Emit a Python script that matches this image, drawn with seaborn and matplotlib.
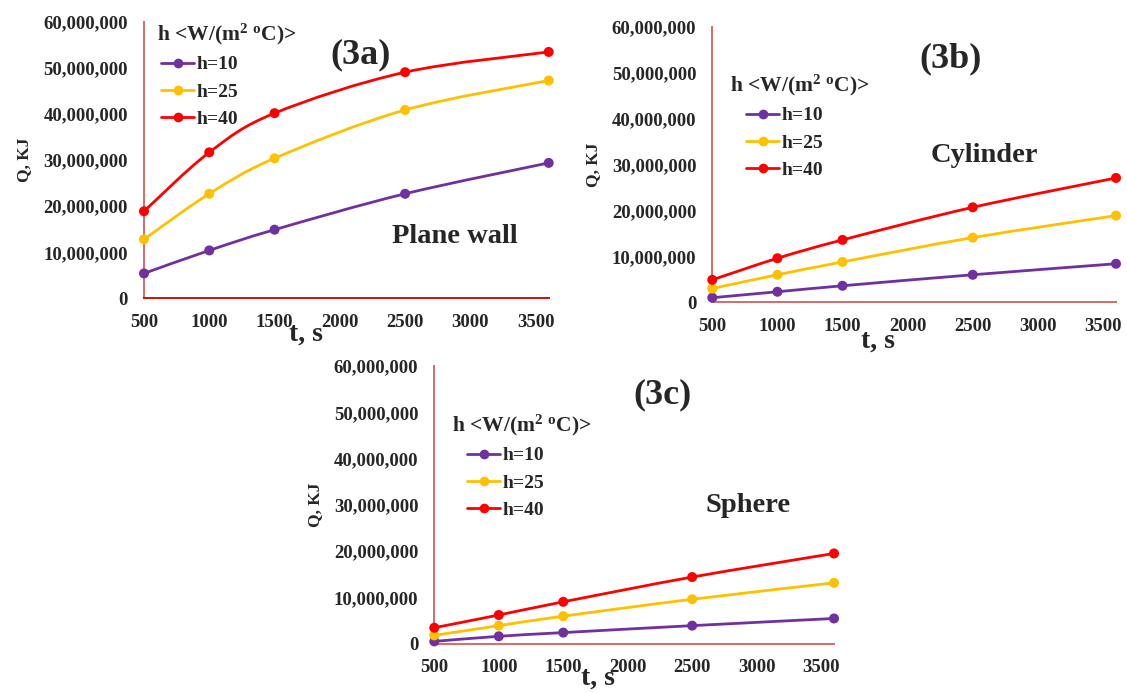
import numpy as np
import pandas as pd
import matplotlib
matplotlib.use("Agg")
import matplotlib.pyplot as plt
import seaborn as sns
from matplotlib.path import Path
from matplotlib.patches import PathPatch
from matplotlib.lines import Line2D
from matplotlib.ticker import FuncFormatter

# ---- data -------------------------------------------------------------
time_s = [500, 1000, 1500, 2500, 3600]
h_labels = ["h=10", "h=25", "h=40"]
h_colors = ["#7030A0", "#FFC000", "#FF0000"]

plane_h10 = [5.4e6, 10.4e6, 14.9e6, 22.7e6, 29.4e6]
plane_h25 = [12.8e6, 22.7e6, 30.4e6, 40.9e6, 47.3e6]
plane_h40 = [18.9e6, 31.7e6, 40.2e6, 49.1e6, 53.5e6]

cyl_h10 = [1.0e6, 2.3e6, 3.6e6, 6.0e6, 8.4e6]
cyl_h25 = [3.0e6, 6.0e6, 8.8e6, 14.1e6, 18.9e6]
cyl_h40 = [4.9e6, 9.6e6, 13.6e6, 20.7e6, 27.1e6]

sph_h10 = [0.5e6, 1.6e6, 2.4e6, 3.9e6, 5.45e6]
sph_h25 = [1.8e6, 3.9e6, 5.95e6, 9.6e6, 13.15e6]
sph_h40 = [3.45e6, 6.2e6, 9.05e6, 14.4e6, 19.5e6]

x_ticks = [500, 1000, 1500, 2000, 2500, 3000, 3500]
y_ticks = [0, 10e6, 20e6, 30e6, 40e6, 50e6, 60e6]

legend_title = r"h <W/(m$^{2}$ $^{o}$C)>"

# ---- style ------------------------------------------------------------
sns.set_theme(style="white")
plt.rcParams["font.family"] = ["Liberation Serif", "DejaVu Serif"]
plt.rcParams["font.weight"] = "bold"
plt.rcParams["mathtext.fontset"] = "custom"
plt.rcParams["mathtext.rm"] = "Liberation Serif:bold"
plt.rcParams["mathtext.it"] = "Liberation Serif:bold"
plt.rcParams["mathtext.bf"] = "Liberation Serif:bold"
plt.rcParams["mathtext.default"] = "regular"

W, H = 1127, 693
fig = plt.figure(figsize=(W / 100, H / 100), dpi=100)


def fxy(x, y):
    """pixel position -> figure fraction"""
    return (x / W, 1 - y / H)


def px_axes(x0, x1, ytop, ybot):
    return fig.add_axes([x0 / W, 1 - ybot / H, (x1 - x0) / W, (ybot - ytop) / H])


def smooth_path(xs, ys):
    # Catmull-Rom style cubic Bezier through the data points
    pts = np.column_stack([xs, ys]).astype(float)
    n = len(pts)
    verts = [pts[0]]
    codes = [Path.MOVETO]
    for i in range(n - 1):
        p0 = pts[i - 1] if i > 0 else pts[i]
        p1 = pts[i]
        p2 = pts[i + 1]
        p3 = pts[i + 2] if i + 2 < n else pts[i + 1]
        verts += [p1 + (p2 - p0) / 6, p2 - (p3 - p1) / 6, p2]
        codes += [Path.CURVE4] * 3
    return Path(verts, codes)


panels = [
    dict(series=[plane_h10, plane_h25, plane_h40], box=(144, 548.7, 22, 298.3),
         tag="(3a)", tag_xy=(0.534, 0.88), name="Plane wall", name_size=20.5,
         name_xy=(0.768, 0.225), title_px=(157, 34), legend_px=(161, 92),
         xlab_xy=(0.40, -0.13), bottom_color="#CC1010"),
    dict(series=[cyl_h10, cyl_h25, cyl_h40], box=(712.3, 1116, 27, 302.3),
         tag="(3b)", tag_xy=(0.589, 0.886), name="Cylinder", name_size=20.5,
         name_xy=(0.675, 0.534), title_px=(730, 85), legend_px=(746, 143),
         xlab_xy=(0.41, -0.14), bottom_color="#D66A6A"),
    dict(series=[sph_h10, sph_h25, sph_h40], box=(434.3, 834, 366, 643.7),
         tag="(3c)", tag_xy=(0.57, 0.896), name="Sphere", name_size=20.5,
         name_xy=(0.785, 0.496), title_px=(452, 425), legend_px=(467, 483),
         xlab_xy=(0.41, -0.124), bottom_color="#D66A6A"),
]

for p in panels:
    ax = px_axes(*p["box"])
    df = pd.concat(
        [pd.DataFrame({"t": time_s, "Q": vals, "h": lab})
         for vals, lab in zip(p["series"], h_labels)],
        ignore_index=True,
    )
    pal = dict(zip(h_labels, h_colors))

    # smooth connecting curves
    for lab in h_labels:
        sub = df[df["h"] == lab]
        ax.add_patch(PathPatch(smooth_path(sub["t"], sub["Q"]), facecolor="none",
                               edgecolor=pal[lab], lw=2.0, zorder=2,
                               capstyle="round", joinstyle="round"))
    # point markers
    sns.scatterplot(data=df, x="t", y="Q", hue="h", palette=pal, s=52,
                    linewidth=0, legend=False, ax=ax, zorder=3, clip_on=False)

    ax.set_xlim(500, 3600)
    ax.set_ylim(0, 60e6)
    ax.set_xticks(x_ticks)
    ax.set_yticks(y_ticks)
    ax.yaxis.set_major_formatter(FuncFormatter(lambda v, _: f"{int(v):,}"))
    ax.tick_params(axis="both", length=0, labelsize=13.5)
    ax.tick_params(axis="y", pad=11.5)
    ax.tick_params(axis="x", pad=11)
    for lbl in ax.get_xticklabels() + ax.get_yticklabels():
        lbl.set_fontweight("bold")

    for side in ("top", "right"):
        ax.spines[side].set_visible(False)
    ax.spines["left"].set_color("#D66A6A")
    ax.spines["bottom"].set_color(p["bottom_color"])
    ax.spines["left"].set_linewidth(1.4)
    ax.spines["bottom"].set_linewidth(1.4)
    ax.set_facecolor("none")

    ax.set_xlabel("")
    ax.set_ylabel("Q, KJ", fontsize=12.5, fontweight="bold", labelpad=8)
    ax.text(*p["xlab_xy"], "t, s", transform=ax.transAxes, fontsize=20,
            fontweight="bold", ha="center", va="center")

    ax.text(*p["tag_xy"], p["tag"], transform=ax.transAxes, fontsize=26,
            fontweight="bold", ha="center", va="center")
    ax.text(*p["name_xy"], p["name"], transform=ax.transAxes, fontsize=p["name_size"],
            fontweight="bold", ha="center", va="center")

    # legend heading and entries
    fig.text(*fxy(*p["title_px"]), legend_title, fontsize=15.5, fontweight="bold",
             ha="left", va="center")
    handles = [Line2D([], [], color=c, lw=2.0, marker="o", markersize=7,
                      markeredgewidth=0) for c in h_colors]
    ax.legend(handles, h_labels, loc="center left", bbox_to_anchor=fxy(*p["legend_px"]),
              bbox_transform=fig.transFigure, frameon=False,
              prop=dict(weight="bold", size=14),
              handlelength=1.7, handletextpad=0.15, labelspacing=0.5,
              borderpad=0, borderaxespad=0)

fig.savefig("out.png", dpi=100, facecolor="white")
